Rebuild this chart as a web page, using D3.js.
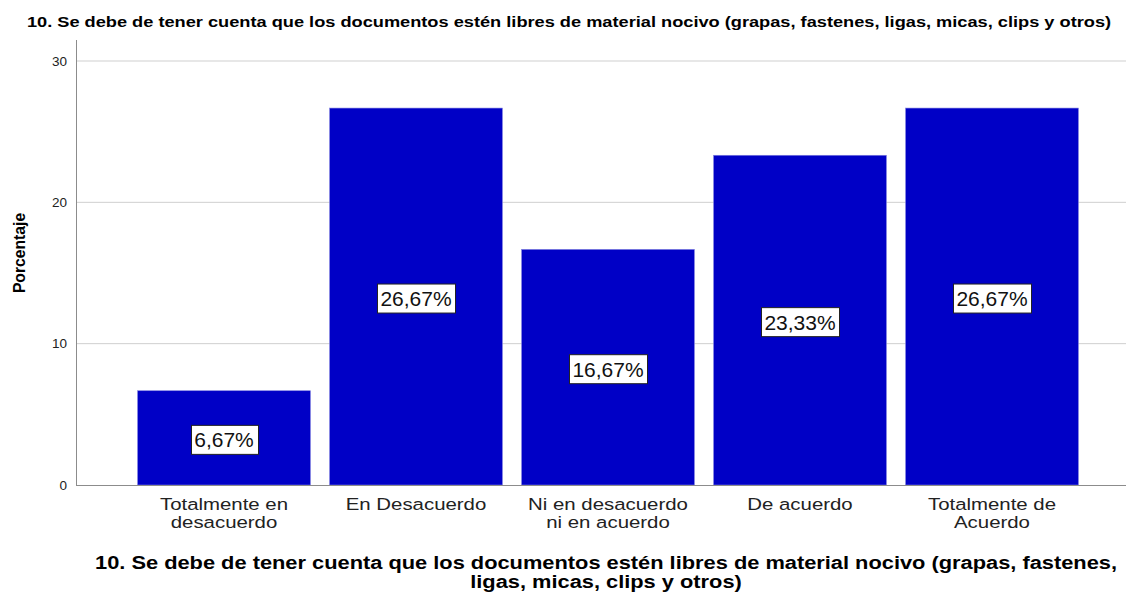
<!DOCTYPE html>
<html>
<head>
<meta charset="utf-8">
<script src="https://cdn.jsdelivr.net/npm/d3@7"></script>
<style>
  html, body { margin: 0; padding: 0; background: #fff; }
  svg { display: block; font-family: "Liberation Sans", Arial, sans-serif; }
</style>
</head>
<body>
<svg id="chart" width="1126" height="594"></svg>
<script>
const titleText = "10. Se debe de tener cuenta que los documentos estén libres de material nocivo (grapas, fastenes, ligas, micas, clips y otros)";
const axisTitleLines = [
  "10. Se debe de tener cuenta que los documentos estén libres de material nocivo (grapas, fastenes,",
  "ligas, micas, clips y otros)"
];
const categories = [
  ["Totalmente en", "desacuerdo"],
  ["En Desacuerdo"],
  ["Ni en desacuerdo", "ni en acuerdo"],
  ["De acuerdo"],
  ["Totalmente de", "Acuerdo"]
];
const percentages = [6.67, 26.67, 16.67, 23.33, 26.67];
const yTicks = [0, 10, 20, 30];

const svg = d3.select("#chart");
const plotLeft = 76, plotRight = 1126, plotTop = 40, plotBottom = 485;

const x = d3.scaleBand()
  .domain(d3.range(categories.length))
  .range([128, 1088])
  .paddingInner(0.1)
  .paddingOuter(0.05);

const y = d3.scaleLinear().domain([0, 30]).range([plotBottom, 61]);

// wide text: stretch horizontally around its anchor
function stretchX(sel, cx, cy, sx) {
  sel.attr("transform", `translate(${cx},${cy}) scale(${sx},1)`);
}

// title
svg.append("text")
  .attr("text-anchor", "middle")
  .attr("font-size", 15).attr("font-weight", "bold")
  .text(titleText)
  .call(stretchX, 569, 27, 1.214);

// gridlines
svg.append("g").selectAll("line")
  .data(yTicks.filter(d => d > 0))
  .join("line")
  .attr("x1", plotLeft).attr("x2", plotRight)
  .attr("y1", d => y(d)).attr("y2", d => y(d))
  .attr("stroke", "#cfcfcf").attr("stroke-width", 1);

// y axis
const yAxis = svg.append("g")
  .attr("transform", `translate(${plotLeft},0)`)
  .call(d3.axisLeft(y).tickValues(yTicks).tickSize(0).tickPadding(9));
yAxis.select(".domain").attr("stroke", "#8c8c8c").attr("d", `M0.5,${plotTop}V${plotBottom}`);
yAxis.selectAll("text").attr("font-size", 13.5).attr("fill", "#222")
  .attr("font-family", "Liberation Sans, Arial, sans-serif");

// bars
svg.append("g").selectAll("rect")
  .data(percentages)
  .join("rect")
  .attr("x", (d, i) => x(i))
  .attr("y", d => y(d))
  .attr("width", x.bandwidth())
  .attr("height", d => y(0) - y(d))
  .attr("fill", "#0000c6")
  .attr("stroke", "#7f7fe0").attr("stroke-width", 0.6);

// x axis line
svg.append("line")
  .attr("x1", plotLeft).attr("x2", plotRight)
  .attr("y1", plotBottom + 0.5).attr("y2", plotBottom + 0.5)
  .attr("stroke", "#8c8c8c");

// value labels, boxed, centred in each bar
const fmt = v => v.toFixed(2).replace(".", ",") + "%";
const lbl = svg.append("g").selectAll("g")
  .data(percentages)
  .join("g")
  .attr("transform", (d, i) => `translate(${x(i) + x.bandwidth() / 2},${(y(d) + y(0)) / 2 + 2})`);
lbl.append("text")
  .attr("text-anchor", "middle").attr("dy", "0.36em")
  .attr("font-size", 21).attr("fill", "#111")
  .text(fmt)
  .each(function () {
    const b = this.getBBox();
    d3.select(this.parentNode).insert("rect", "text")
      .attr("x", Math.round(b.x - 3.5) + 0.5).attr("y", -14.5)
      .attr("width", Math.round(b.width + 7)).attr("height", 29)
      .attr("fill", "#fff").attr("stroke", "#222").attr("stroke-width", 1);
  });

// category labels
const cat = svg.append("g").selectAll("text")
  .data(categories)
  .join("text")
  .attr("text-anchor", "middle")
  .attr("font-size", 17).attr("fill", "#222")
  .each(function (d, i) { stretchX(d3.select(this), x(i) + x.bandwidth() / 2, 510, 1.2); });
cat.selectAll("tspan")
  .data(d => d)
  .join("tspan")
  .attr("x", 0)
  .attr("dy", (d, i) => i === 0 ? 0 : 18)
  .text(d => d);

// x axis title
svg.append("text")
  .attr("text-anchor", "middle")
  .attr("font-size", 17.5).attr("font-weight", "bold")
  .call(stretchX, 606, 568.5, 1.248)
  .selectAll("tspan")
  .data(axisTitleLines)
  .join("tspan")
  .attr("x", 0)
  .attr("dy", (d, i) => i === 0 ? 0 : 19.6)
  .text(d => d);

// y axis title
svg.append("text")
  .attr("transform", "translate(25,253) rotate(-90)")
  .attr("text-anchor", "middle")
  .attr("font-size", 15.7).attr("font-weight", "bold")
  .text("Porcentaje");
</script>
</body>
</html>
